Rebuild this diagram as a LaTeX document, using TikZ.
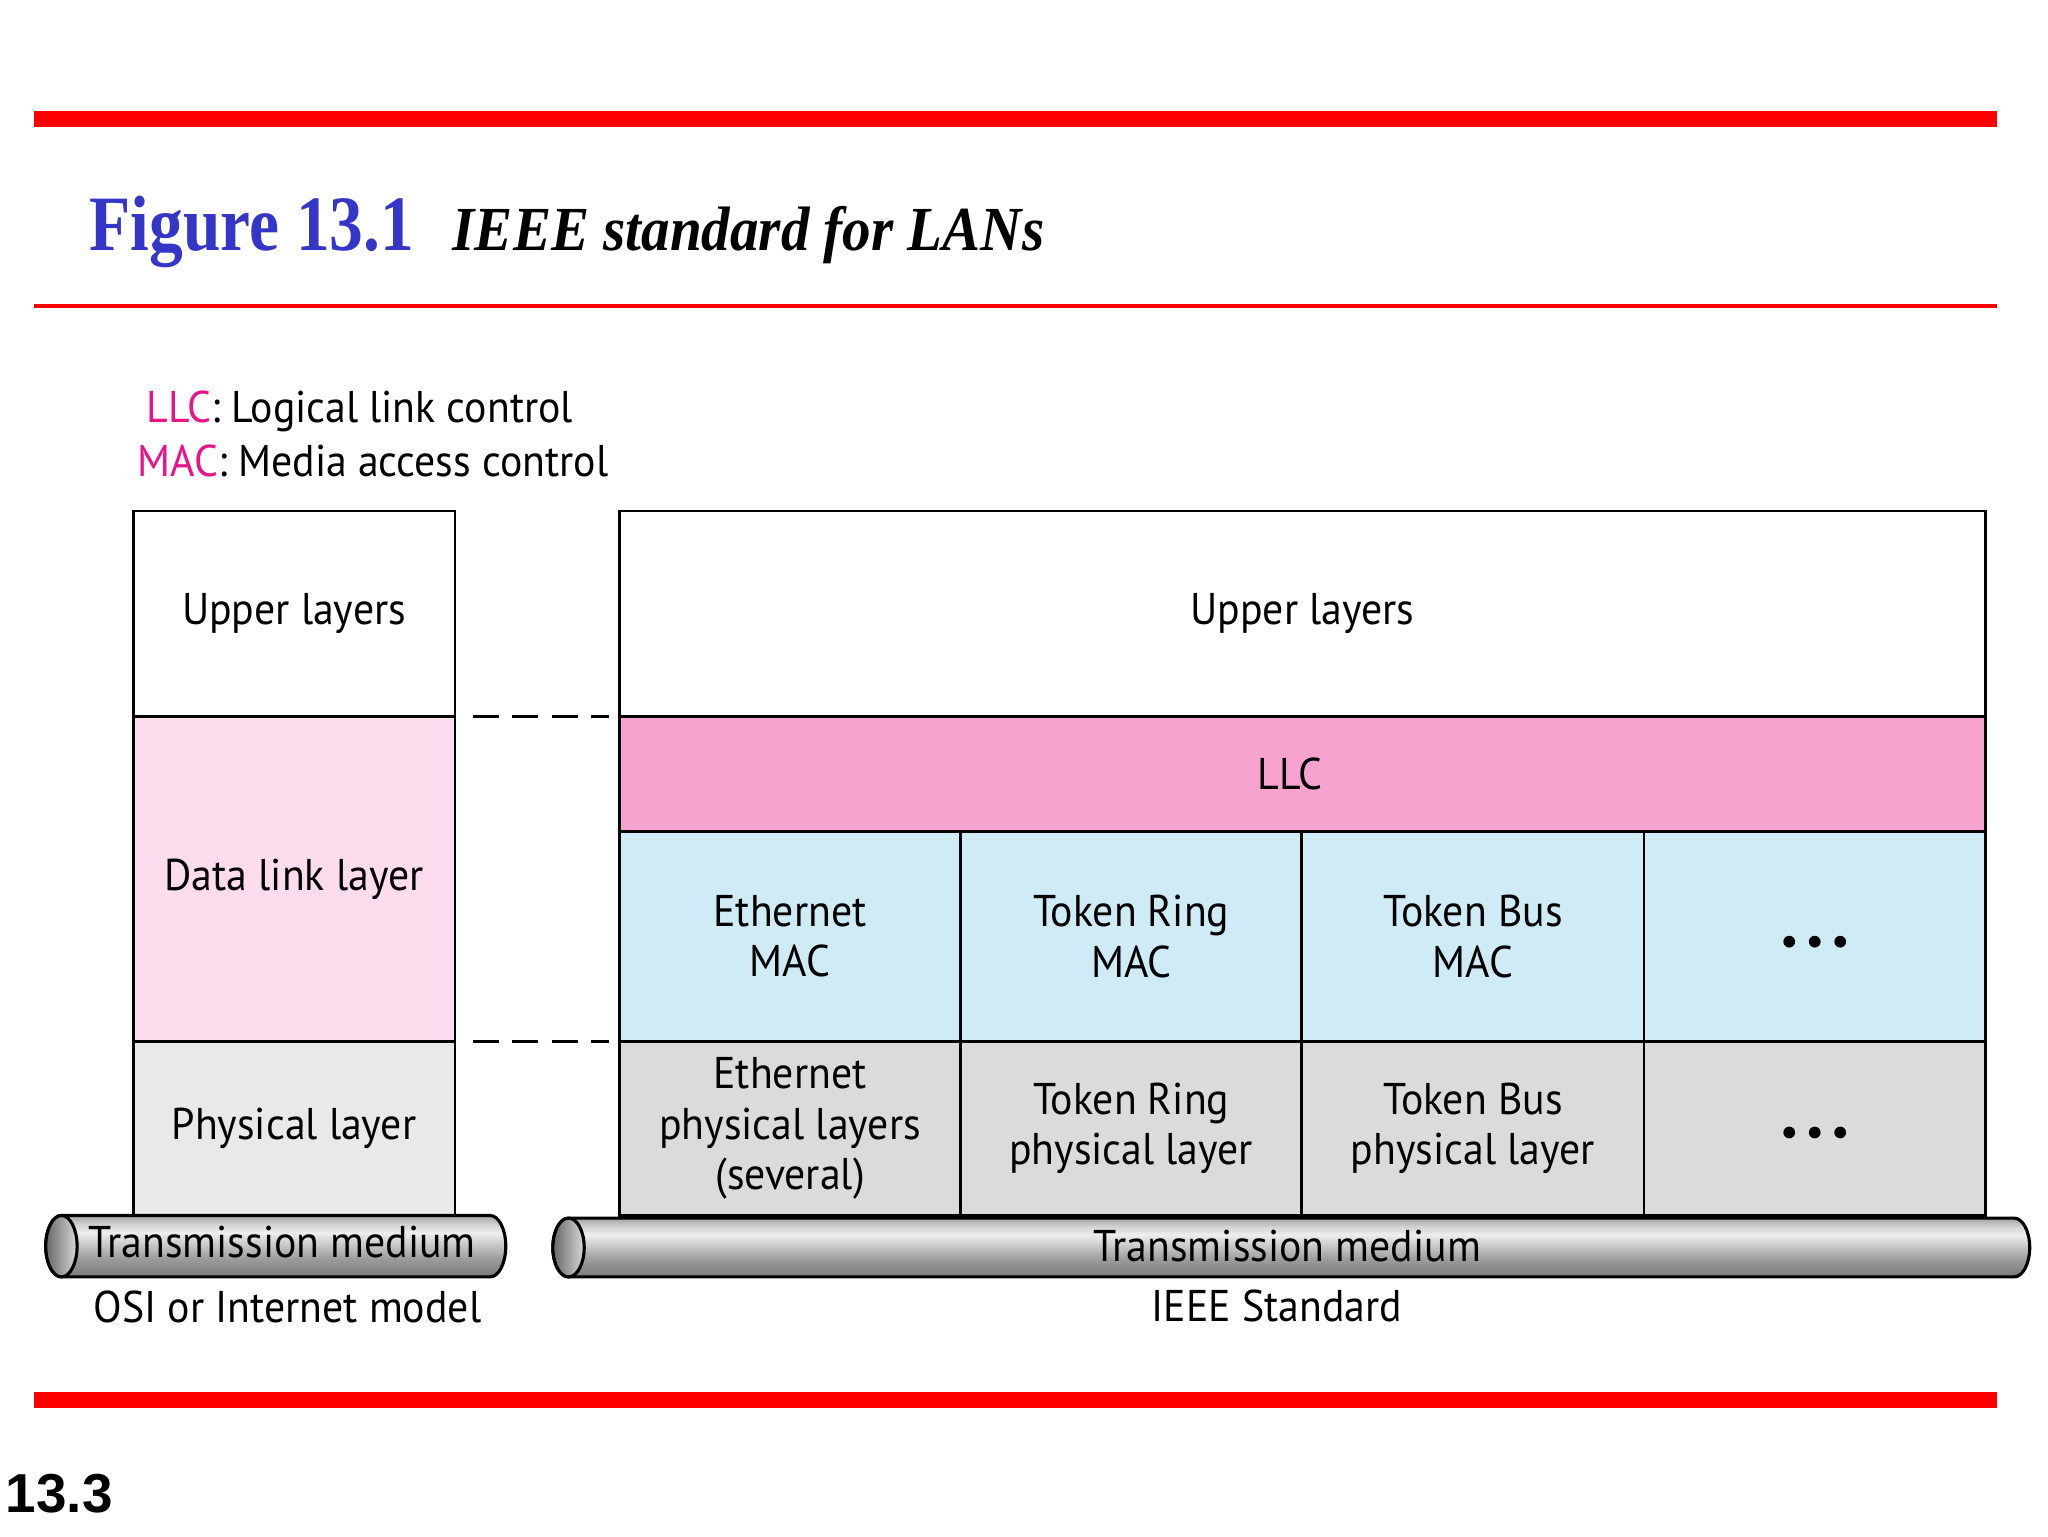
\documentclass[tikz,border=0pt]{standalone}
\usepackage{fontspec}
\usetikzlibrary{calc}
\setmainfont{PT Sans}[FakeStretch=0.94]
\newfontfamily\titleA{Liberation Serif}[FakeStretch=0.86]
\newfontfamily\titleB{Liberation Serif}[FakeStretch=0.91]
\newfontfamily\numfont{Liberation Sans}
\definecolor{redbar}{HTML}{FF0000}
\definecolor{titleblue}{HTML}{3535C8}
\definecolor{legpink}{HTML}{E8158A}
\definecolor{pinkL}{HTML}{FDDCEE}
\definecolor{llcpink}{HTML}{F7A3CF}
\definecolor{macblue}{HTML}{CFEBF5}
\definecolor{grayL}{HTML}{E9E9E9}
\definecolor{grayR}{HTML}{DCDADD}
\definecolor{tdark}{HTML}{7A7A7A}
\definecolor{tmid}{HTML}{9C9C9C}
\definecolor{tlight}{HTML}{EEEEEE}
\definecolor{tlight2}{HTML}{D2D2D2}
\definecolor{ttop}{HTML}{A2A2A2}
\pgfdeclareverticalshading{tubeshade}{100bp}{color(0bp)=(tdark); color(25bp)=(tdark); color(40bp)=(tmid); color(61bp)=(tlight); color(68bp)=(tlight2); color(75bp)=(ttop); color(100bp)=(ttop)}
\tikzset{
  cell/.style={draw=black, line width=1pt, inner sep=0pt, outer sep=0pt, align=center,
     font=\fontsize{17}{19.25}\selectfont},
  dashline/.style={line width=1pt, dash pattern=on 10pt off 5pt},
  tubebody/.style={draw=black, line width=1.2pt, shading=tubeshade},
  tubeend/.style={draw=black, line width=1.2pt, left color=black!60, right color=black!15},
  tubelabel/.style={inner sep=0pt, font=\fontsize{17}{19}\selectfont},
  caption/.style={inner sep=0pt, font=\fontsize{17}{19}\selectfont},
  dotmark/.style={fill=black, draw=none}
}
\begin{document}
\begin{tikzpicture}[x=0.5pt,y=-0.5pt]
\useasboundingbox (0,0) rectangle (1567,1175.25);
% bars
\fill[redbar] (26,85) rectangle (1528,97);
\fill[redbar] (26,232.5) rectangle (1528,235.5);
\fill[redbar] (26,1065) rectangle (1528,1077);
% title
\node[anchor=base west, inner sep=0pt, text=titleblue, font=\titleA\bfseries\fontsize{30}{32}\selectfont] (fig) at (68,192) {Figure 13.1};
\node[anchor=base west, inner sep=0pt, font=\titleB\bfseries\itshape\fontsize{24}{26}\selectfont] (ttl) at (346,192) {IEEE standard for LANs};
% legend
\node[anchor=west, inner sep=0pt, font=\fontsize{17}{19}\selectfont] (leg1) at (112,315) {\textcolor{legpink}{LLC}: Logical link control};
\node[anchor=west, inner sep=0pt, font=\fontsize{17}{19}\selectfont] (leg2) at (105,353) {\textcolor{legpink}{MAC}: Media access control};
% left stack
\node[cell, fill=white, minimum width=123pt, minimum height=78.5pt] (LU) at (225,469.5) {Upper layers};
\node[cell, fill=pinkL, minimum width=123pt, minimum height=124.5pt] (LD) at (225,672.5) {Data link layer};
\node[cell, fill=grayL, minimum width=123pt, minimum height=66.5pt] (LP) at (225,863.5) {Physical layer};
% right stack
\node[cell, fill=white, minimum width=522.5pt, minimum height=78.5pt] (RU) at (996.5,469.5) {Upper layers};
\node[cell, fill=llcpink, minimum width=522.5pt, minimum height=44pt] (LLC) at (996.5,592) {\hspace*{-9.5pt}LLC};
\node[cell, fill=macblue, minimum width=130.5pt, minimum height=80.5pt] (M1) at (604.5,716.5) {Ethernet\\MAC};
\node[cell, fill=macblue, minimum width=130.5pt, minimum height=80.5pt] (M2) at (865.5,716.5) {Token Ring\\MAC};
\node[cell, fill=macblue, minimum width=131pt, minimum height=80.5pt] (M3) at (1127,716.5) {Token Bus\\MAC};
\node[cell, fill=macblue, minimum width=130.5pt, minimum height=80.5pt] (M4) at (1388.5,716.5) {};
\node[cell, fill=grayR, minimum width=130.5pt, minimum height=66.5pt] (P1) at (604.5,863.5) {Ethernet\\physical layers\\(several)};
\node[cell, fill=grayR, minimum width=130.5pt, minimum height=66.5pt] (P2) at (865.5,863.5) {Token Ring\\physical layer};
\node[cell, fill=grayR, minimum width=131pt, minimum height=66.5pt] (P3) at (1127,863.5) {Token Bus\\physical layer};
\node[cell, fill=grayR, minimum width=130.5pt, minimum height=66.5pt] (P4) at (1388.5,863.5) {};
% dots
\foreach \dx in {-19.5,0,19.5} {
  \fill[dotmark] ($(M4.center)+(\dx,4)$) circle[radius=4.5];
  \fill[dotmark] ($(P4.center)+(\dx,3)$) circle[radius=4.5];
}
% dashed connectors
\draw[dashline, shorten <=7pt, shorten >=4pt] (LU.south east) -- (RU.south west);
\draw[dashline, shorten <=7pt, shorten >=4pt] (LD.south east) -- (M1.south west);
% tubes
\path[tubebody] (47,930) -- (375,930) arc[start angle=-90, end angle=90, x radius=12, y radius=23.5] -- (47,977) arc[start angle=90, end angle=270, x radius=12, y radius=23.5] -- cycle;
\path[tubeend] (47,953.5) ellipse[x radius=12, y radius=23.5];
\node[tubelabel] (TL) at (216,950) {Transmission medium};
\path[tubebody] (435,932) -- (1541,932) arc[start angle=-90, end angle=90, x radius=12, y radius=22.5] -- (435,977) arc[start angle=90, end angle=270, x radius=12, y radius=22.5] -- cycle;
\path[tubeend] (435,954.5) ellipse[x radius=12, y radius=22.5];
\node[tubelabel] (TR) at (985,953) {Transmission medium};
% captions
\node[caption] (C1) at (220,1000) {OSI or Internet model};
\node[caption] (C2) at (977,999) {IEEE Standard};
% page number
\node[anchor=west, inner sep=0pt, font=\numfont\bfseries\fontsize{21}{23}\selectfont] (pg) at (4,1143) {13.3};
\end{tikzpicture}
\end{document}
